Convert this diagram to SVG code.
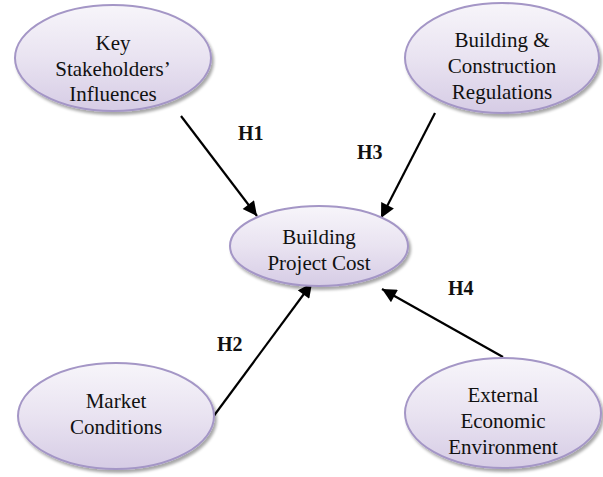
<svg xmlns="http://www.w3.org/2000/svg" width="603" height="477" viewBox="0 0 603 477">
  <defs>
    <linearGradient id="fillGrad" x1="0" y1="0" x2="0" y2="1">
      <stop offset="0" stop-color="#f7f5fa"/>
      <stop offset="0.5" stop-color="#e9e3f1"/>
      <stop offset="1" stop-color="#d6cce5"/>
    </linearGradient>
    <filter id="shadow" x="-10%" y="-10%" width="125%" height="130%">
      <feGaussianBlur in="SourceAlpha" stdDeviation="1.8"/>
      <feOffset dx="2" dy="3" result="b"/>
      <feComponentTransfer><feFuncA type="linear" slope="0.35"/></feComponentTransfer>
      <feMerge><feMergeNode/><feMergeNode in="SourceGraphic"/></feMerge>
    </filter>
    <marker id="arrow" viewBox="0 0 10 10" refX="10" refY="5" markerWidth="7" markerHeight="6.5" markerUnits="strokeWidth" orient="auto">
      <path d="M0,0 L10,5 L0,10 Z" fill="#000"/>
    </marker>
  </defs>
  <style>
    .node ellipse { fill: url(#fillGrad); stroke: #a496c6; stroke-width: 2; filter: url(#shadow); }
    .node text { font-size: 21px; fill: #111; text-anchor: middle; }
    .edge { stroke: #000; stroke-width: 2.2; fill: none; marker-end: url(#arrow); }
    .lbl { font-size: 20px; font-weight: bold; fill: #111; }
  </style>
  <rect width="603" height="477" fill="#fff"/>

  <g font-family="'Liberation Serif', Tinos, 'Times New Roman', 'DejaVu Serif', serif">
  <g id="connectors">
    <line class="edge" x1="181" y1="116" x2="257" y2="216"/>
    <line class="edge" x1="435" y1="113" x2="381" y2="218"/>
    <line class="edge" x1="213" y1="417" x2="312" y2="283"/>
    <line class="edge" x1="503" y1="357" x2="382" y2="289"/>
    <text class="lbl" x="238" y="140">H1</text>
    <text class="lbl" x="357" y="159">H3</text>
    <text class="lbl" x="217" y="351">H2</text>
    <text class="lbl" x="448" y="295">H4</text>
  </g>

  <g id="key-stakeholders" class="node">
    <ellipse cx="113" cy="58" rx="98" ry="53"/>
    <text x="113" y="50">Key</text>
    <text x="113" y="76">Stakeholders’</text>
    <text x="113" y="101">Influences</text>
  </g>

  <g id="regulations" class="node">
    <ellipse cx="502" cy="58" rx="97" ry="55"/>
    <text x="502" y="47">Building &amp;</text>
    <text x="502" y="73">Construction</text>
    <text x="502" y="99">Regulations</text>
  </g>

  <g id="project-cost" class="node">
    <ellipse cx="319" cy="246" rx="89" ry="40"/>
    <text x="319" y="244">Building</text>
    <text x="319" y="270">Project Cost</text>
  </g>

  <g id="market-conditions" class="node">
    <ellipse cx="116" cy="416" rx="98" ry="53"/>
    <text x="116" y="408">Market</text>
    <text x="116" y="434">Conditions</text>
  </g>

  <g id="external-environment" class="node">
    <ellipse cx="503" cy="413" rx="98" ry="55"/>
    <text x="503" y="402">External</text>
    <text x="503" y="428">Economic</text>
    <text x="503" y="454">Environment</text>
  </g>
  </g>
</svg>
